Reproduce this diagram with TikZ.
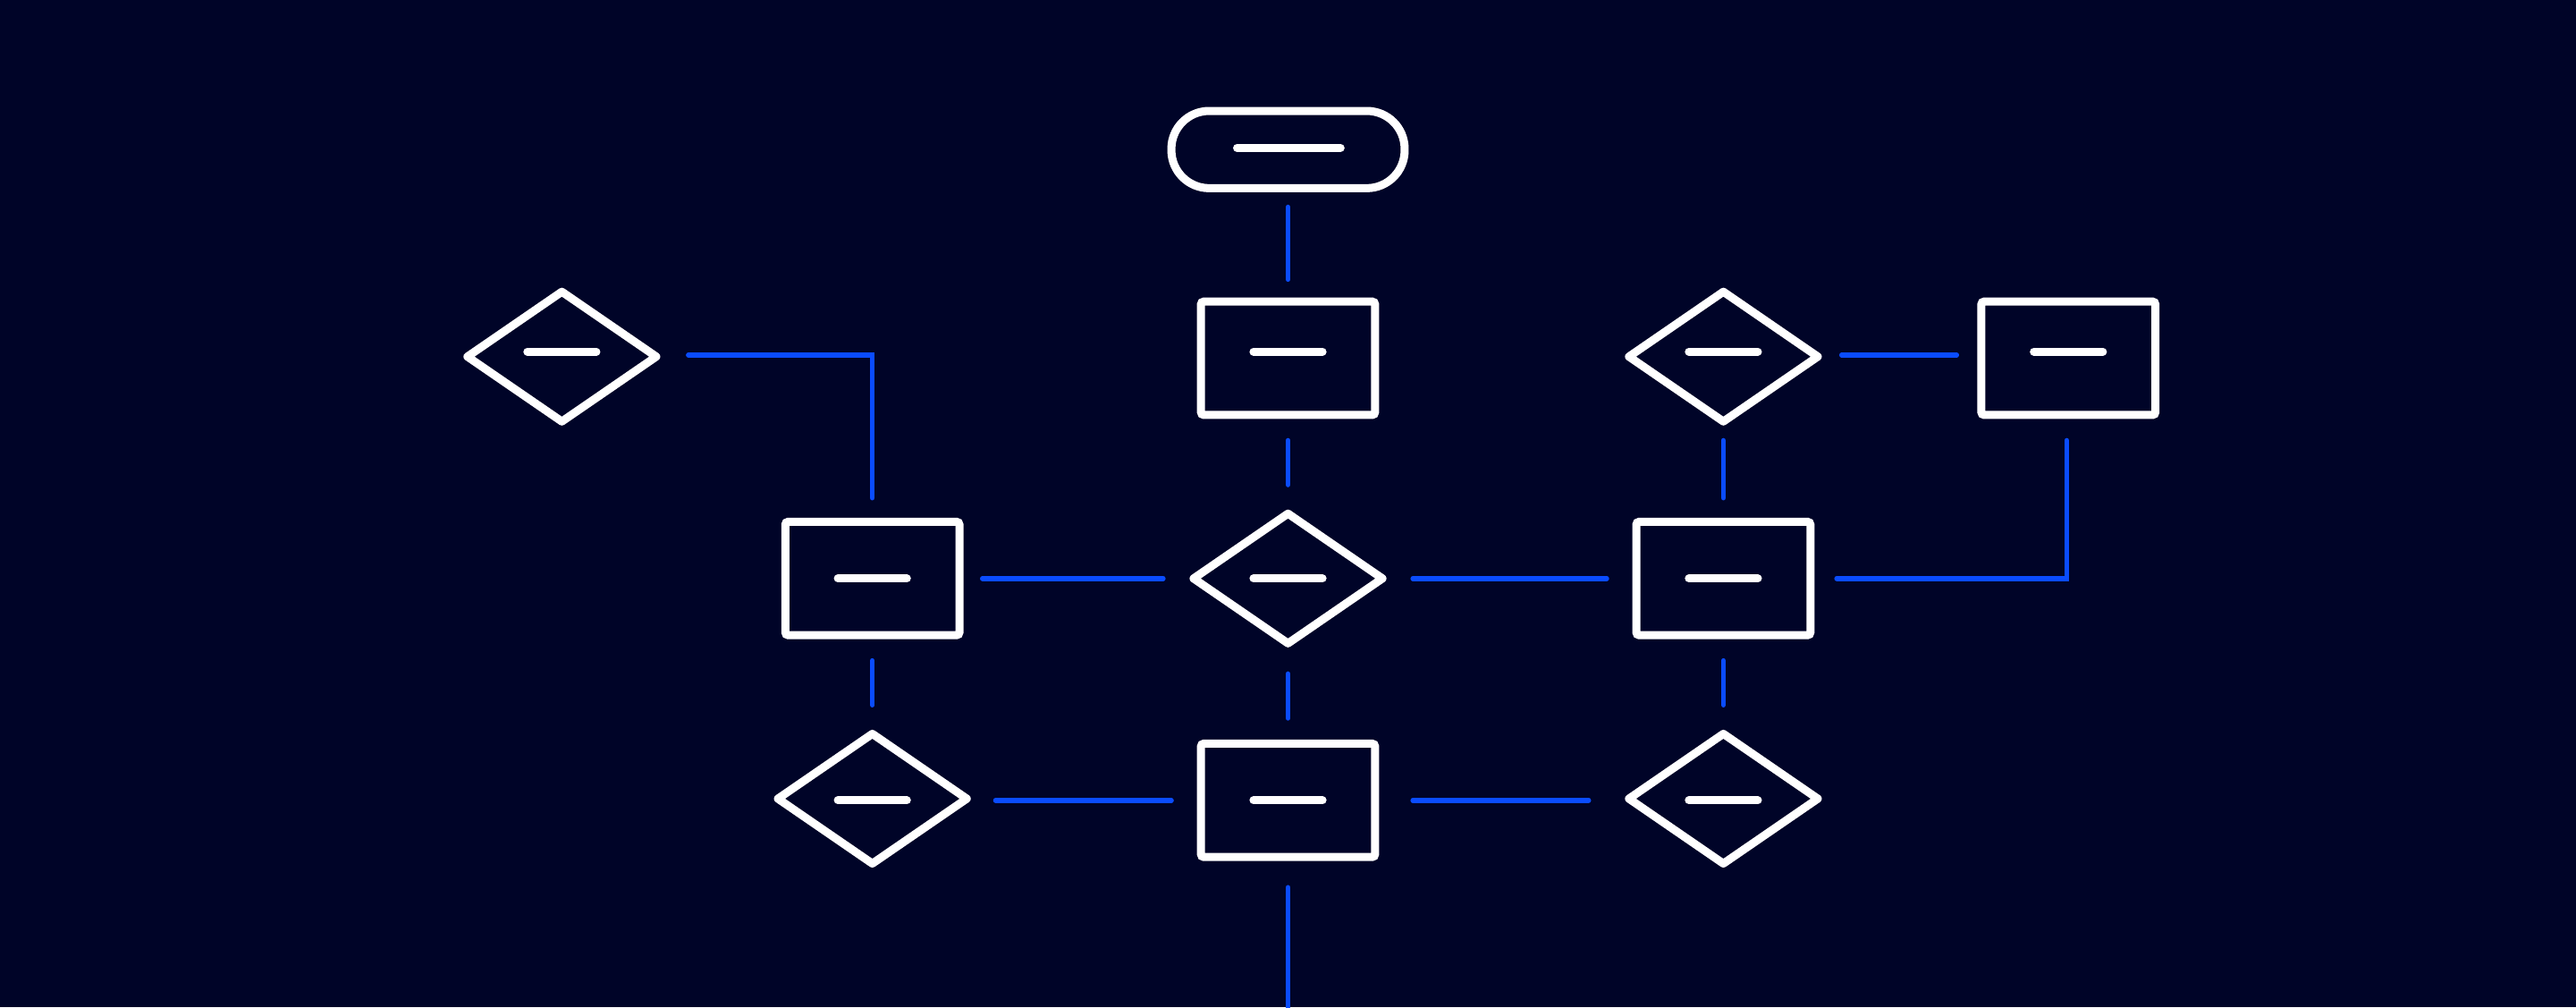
\documentclass[tikz,border=0pt]{standalone}
\usetikzlibrary{shapes.geometric}
\definecolor{bg}{HTML}{000428}
\definecolor{lk}{HTML}{0A4CFF}
\begin{document}
\begin{tikzpicture}[x=0.02cm,y=-0.02cm,
  box/.style={draw=white,line width=2.8pt,rounded corners=1pt,minimum width=2.12cm,minimum height=1.38cm,inner sep=0pt},
  dia/.style={draw=white,line width=2.8pt,diamond,minimum width=2.34cm,minimum height=1.62cm,inner sep=0pt,line join=round},
  term/.style={draw=white,line width=2.8pt,rounded corners=0.46cm,minimum width=2.84cm,minimum height=0.94cm,inner sep=0pt},
  bar/.style={white,line width=2.8pt,line cap=round},
  lnk/.style={lk,line width=1.7pt,line cap=round}]
\fill[bg] (0,0) rectangle (1568,613);
\useasboundingbox (0,0) rectangle (1568,613);
\node[term] (t) at (784,91) {};
\node[box] (r1) at (784,218) {};
\node[dia] (d0) at (342,217) {};
\node[box] (rl) at (531,352) {};
\node[dia] (dc) at (784,352) {};
\node[box] (rr) at (1049,352) {};
\node[dia] (dr) at (1049,217) {};
\node[box] (rt) at (1259,218) {};
\node[dia] (dbl) at (531,486) {};
\node[box] (rb) at (784,487) {};
\node[dia] (dbr) at (1049,486) {};
\draw[bar] (753,90) -- (816,90);
\foreach \n/\x/\y in {r1/784/214,d0/342/214,rl/531/352,dc/784/352,rr/1049/352,dr/1049/214,rt/1259/214,dbl/531/487,rb/784/487,dbr/1049/487}
  \draw[bar] (\x-21,\y) -- (\x+21,\y);
% connector endpoints
\coordinate (a1) at (784,126); \coordinate (a2) at (784,170);
\coordinate (b1) at (784,268); \coordinate (b2) at (784,295);
\coordinate (c1) at (784,410); \coordinate (c2) at (784,437);
\coordinate (e1) at (784,540); \coordinate (e2) at (784,613);
\coordinate (f1) at (419,216); \coordinate (f2) at (531,303);
\coordinate (g1) at (598,352); \coordinate (g2) at (708,352);
\coordinate (h1) at (860,352); \coordinate (h2) at (978,352);
\coordinate (i1) at (531,402); \coordinate (i2) at (531,429);
\coordinate (j1) at (606,487); \coordinate (j2) at (713,487);
\coordinate (k1) at (860,487); \coordinate (k2) at (967,487);
\coordinate (l1) at (1049,268); \coordinate (l2) at (1049,303);
\coordinate (m1) at (1049,402); \coordinate (m2) at (1049,429);
\coordinate (n1) at (1121,216); \coordinate (n2) at (1191,216);
\coordinate (o1) at (1118,352); \coordinate (o2) at (1258,268);
\draw[lnk] (a1)--(a2); \draw[lnk] (b1)--(b2); \draw[lnk] (c1)--(c2); \draw[lnk] (e1)--(e2);
\draw[lnk] (f1)-|(f2); \draw[lnk] (g1)--(g2); \draw[lnk] (h1)--(h2);
\draw[lnk] (i1)--(i2); \draw[lnk] (j1)--(j2); \draw[lnk] (k1)--(k2);
\draw[lnk] (l1)--(l2); \draw[lnk] (m1)--(m2); \draw[lnk] (n1)--(n2);
\draw[lnk] (o1)-|(o2);
\end{tikzpicture}
\end{document}
